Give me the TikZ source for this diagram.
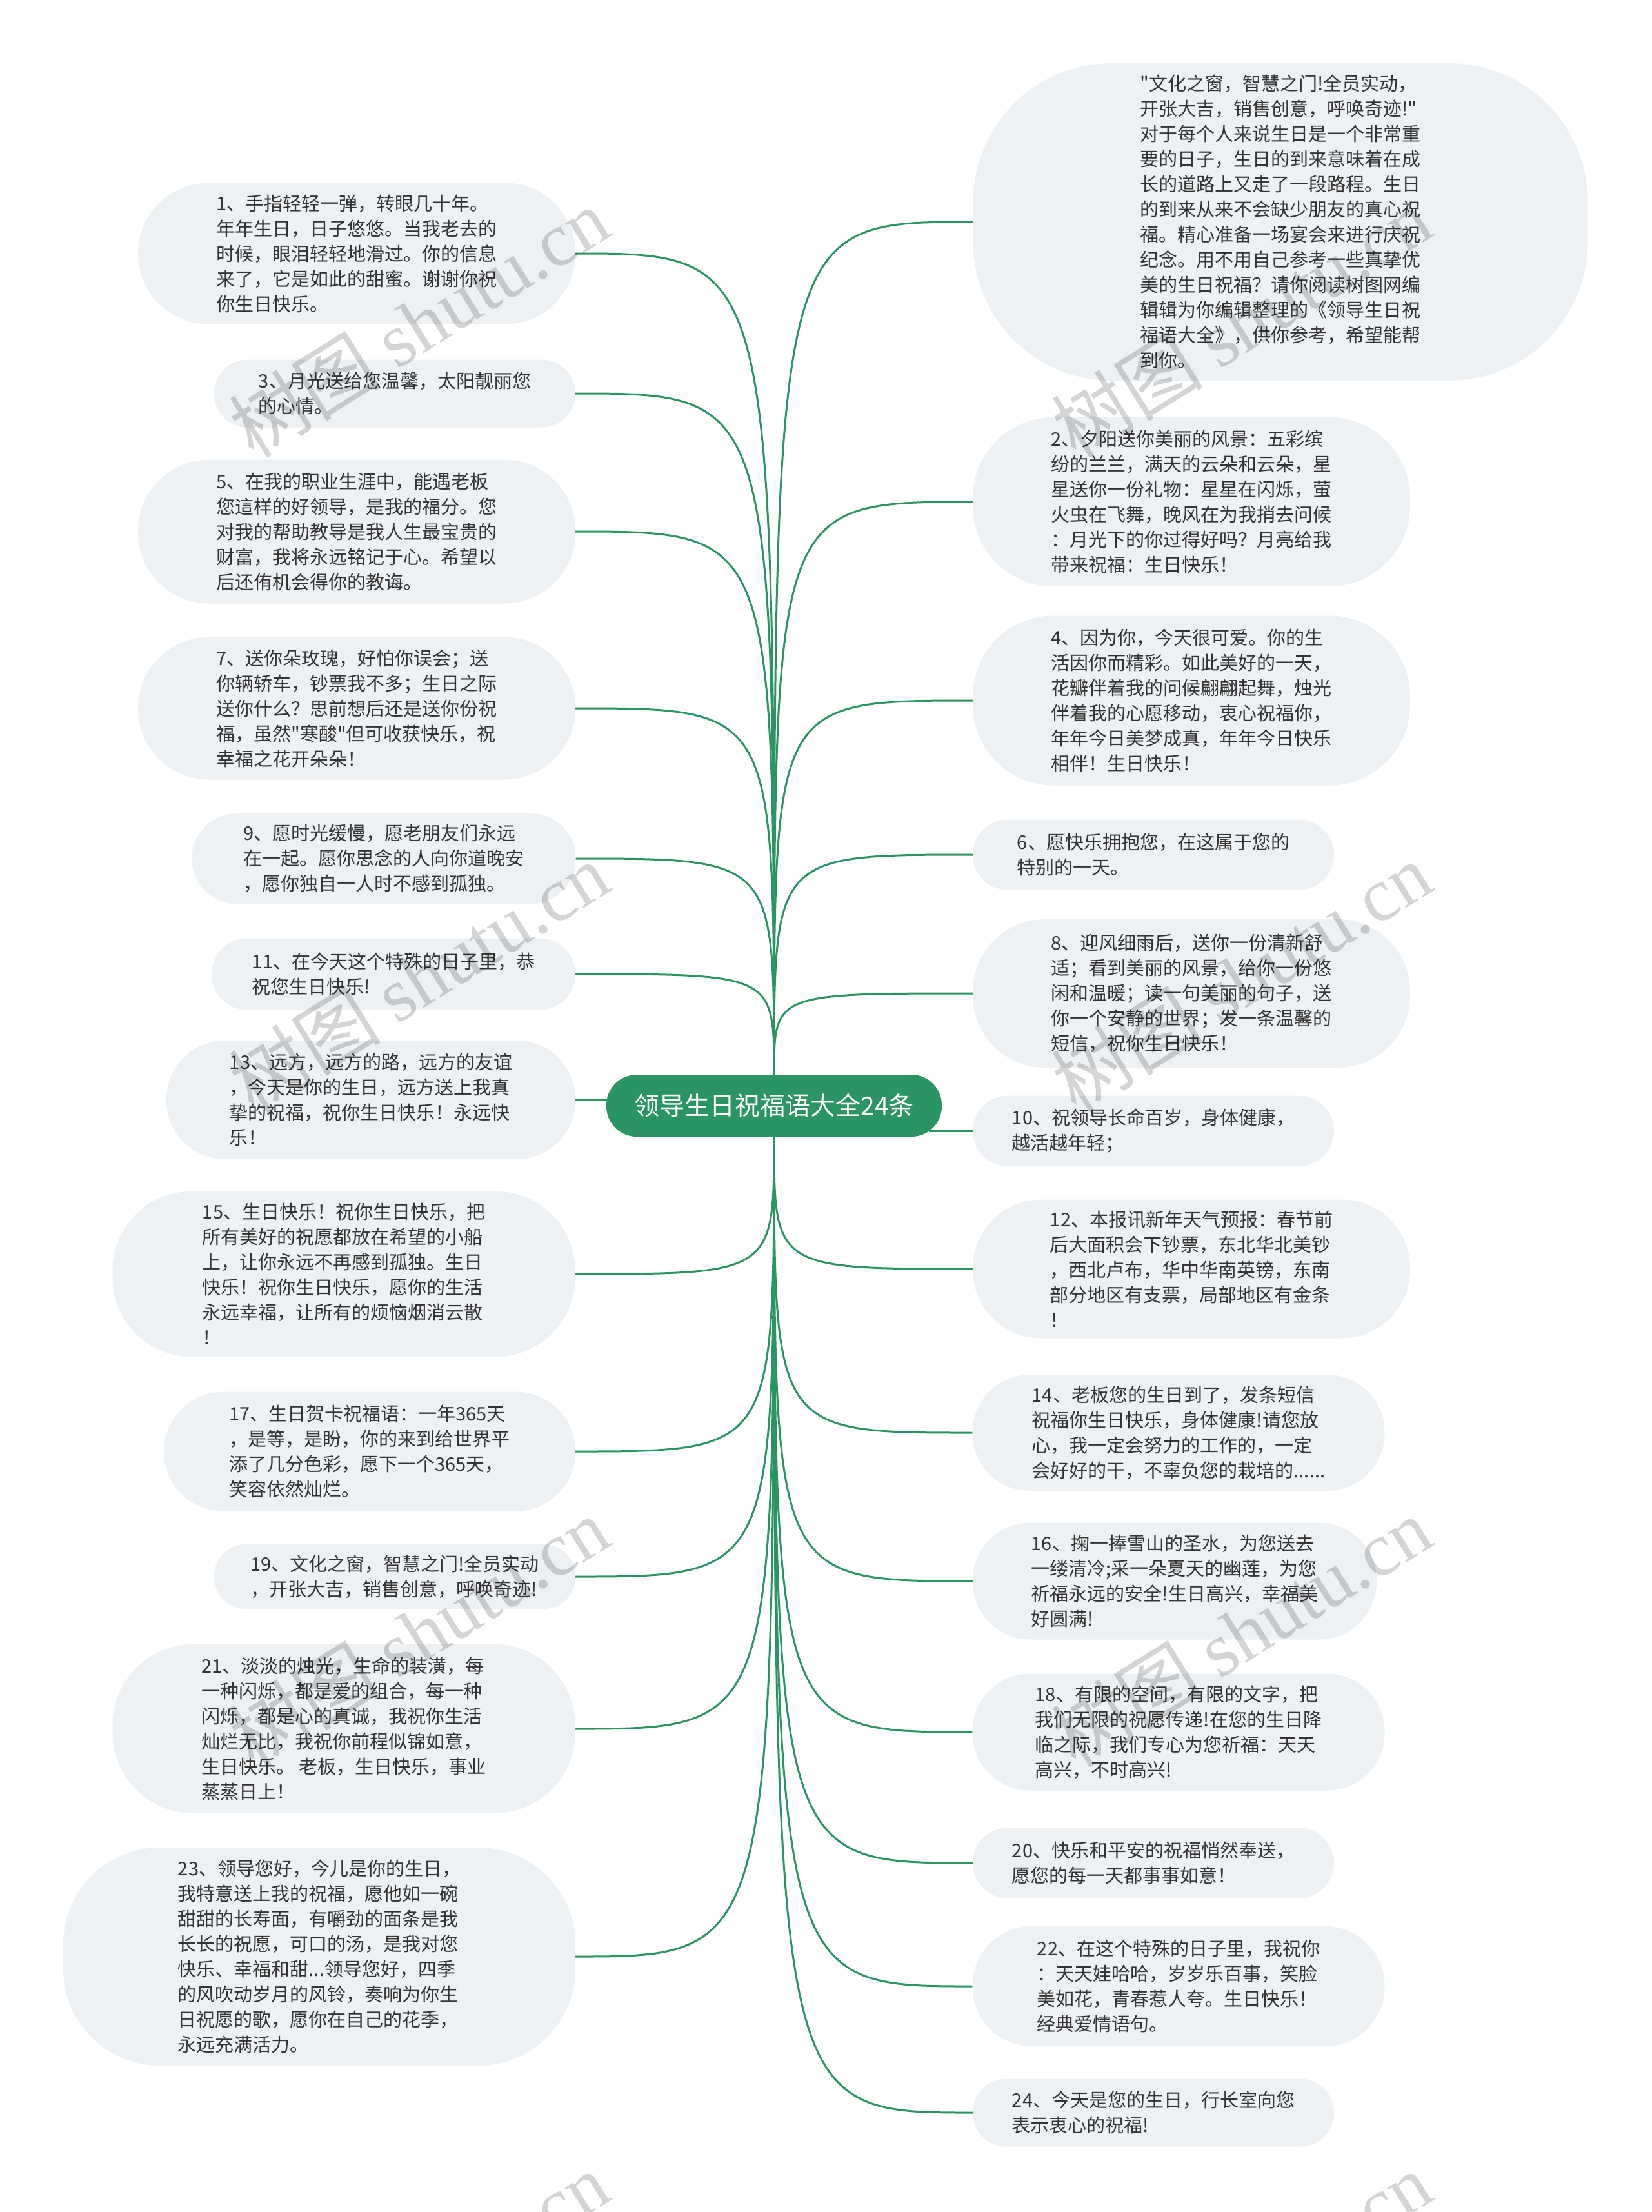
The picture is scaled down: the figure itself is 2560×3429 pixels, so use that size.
\documentclass[tikz,border=0pt]{standalone}
\usepackage{fontspec}
\setmainfont{Noto Sans CJK SC}[Ligatures=TeXOff]
\newfontfamily\wmlatin{Liberation Serif}
\definecolor{mmgreen}{HTML}{2A9463}
\definecolor{bubblefill}{HTML}{EEF1F4}
\definecolor{txtgray}{HTML}{333333}
\tikzset{
  bubble/.style={fill=bubblefill, draw=none, align=left, text=txtgray, inner sep=0pt,
    font=\fontsize{29}{39}\selectfont},
  rootnode/.style={fill=mmgreen, draw=none, text=white, rounded corners=47pt,
    minimum width=520pt, minimum height=96pt, inner sep=0pt, font=\fontsize{39}{45}\selectfont},
  link/.style={draw=mmgreen, line width=3pt},
  wm/.style={text=black, text opacity=0.17, rotate=32, inner sep=0pt,
    font=\fontsize{118}{118}\selectfont}
}
\newcommand\bub[6]{\node[bubble, minimum width=#3pt, minimum height=#4pt, rounded corners=#5pt] (#1) at (#2) {#6};}
\begin{document}
\begin{tikzpicture}[x=1pt,y=-1pt]
\useasboundingbox (0,0) rectangle (2560,3429);
\fill[white] (0,0) rectangle (2560,3429);

\node[rootnode] (root) at (1200,1714) {领导生日祝福语大全24条};

% left column
\bub{n1}{553,393}{678}{219}{109}{1、手指轻轻一弹，转眼几十年。\\年年生日，日子悠悠。当我老去的\\时候，眼泪轻轻地滑过。你的信息\\来了，它是如此的甜蜜。谢谢你祝\\你生日快乐。}
\bub{n3}{612,610}{560}{105}{52}{3、月光送给您温馨，太阳靓丽您\\的心情。}
\bub{n5}{553,824}{678}{223}{110}{5、在我的职业生涯中，能遇老板\\您這样的好领导，是我的福分。您\\对我的帮助教导是我人生最宝贵的\\财富，我将永远铭记于心。希望以\\后还侑机会得你的教诲。}
\bub{n7}{553,1098}{678}{221}{110}{7、送你朵玫瑰，好怕你误会；送\\你辆轿车，钞票我不多；生日之际\\送你什么？思前想后还是送你份祝\\福，虽然"寒酸"但可收获快乐，祝\\幸福之花开朵朵！}
\bub{n9}{595,1331}{595}{140}{69}{9、愿时光缓慢，愿老朋友们永远\\在一起。愿你思念的人向你道晚安\\，愿你独自一人时不感到孤独。}
\bub{n11}{610,1510}{564}{111}{55}{11、在今天这个特殊的日子里，恭\\祝您生日快乐!}
\bub{n13}{575,1705}{634}{184}{91}{13、远方，远方的路，远方的友谊\\，今天是你的生日，远方送上我真\\挚的祝福，祝你生日快乐！永远快\\乐！}
\bub{n15}{533,1975}{717}{256}{122}{15、生日快乐！祝你生日快乐，把\\所有美好的祝愿都放在希望的小船\\上，让你永远不再感到孤独。生日\\快乐！祝你生日快乐，愿你的生活\\永远幸福，让所有的烦恼烟消云散\\！}
\bub{n17}{573,2250}{638}{185}{92}{17、生日贺卡祝福语：一年365天\\，是等，是盼，你的来到给世界平\\添了几分色彩，愿下一个365天，\\笑容依然灿烂。}
\bub{n19}{612,2444}{560}{100}{49}{19、文化之窗，智慧之门!全员实动\\，开张大吉，销售创意，呼唤奇迹!}
\bub{n21}{533,2680}{717}{262}{125}{21、淡淡的烛光，生命的装潢，每\\一种闪烁，都是爱的组合，每一种\\闪烁，都是心的真诚，我祝你生活\\灿烂无比，我祝你前程似锦如意，\\生日快乐。 老板，生日快乐，事业\\蒸蒸日上！}
\bub{n23}{495,3033}{794}{338}{150}{23、领导您好，今儿是你的生日，\\我特意送上我的祝福，愿他如一碗\\甜甜的长寿面，有嚼劲的面条是我\\长长的祝愿，可口的汤，是我对您\\快乐、幸福和甜...领导您好，四季\\的风吹动岁月的风铃，奏响为你生\\日祝愿的歌，愿你在自己的花季，\\永远充满活力。}

% right column
\bub{nt}{1985,344}{953}{492}{215}{"文化之窗，智慧之门!全员实动，\\开张大吉，销售创意，呼唤奇迹!"\\对于每个人来说生日是一个非常重\\要的日子，生日的到来意味着在成\\长的道路上又走了一段路程。生日\\的到来从来不会缺少朋友的真心祝\\福。精心准备一场宴会来进行庆祝\\纪念。用不用自己参考一些真挚优\\美的生日祝福？请你阅读树图网编\\辑辑为你编辑整理的《领导生日祝\\福语大全》，供你参考，希望能帮\\到你。}
\bub{n2}{1847,778}{678}{262}{125}{2、夕阳送你美丽的风景：五彩缤\\纷的兰兰，满天的云朵和云朵，星\\星送你一份礼物：星星在闪烁，萤\\火虫在飞舞，晚风在为我捎去问候\\：月光下的你过得好吗？月亮给我\\带来祝福：生日快乐！}
\bub{n4}{1847,1086}{678}{263}{125}{4、因为你，今天很可爱。你的生\\活因你而精彩。如此美好的一天，\\花瓣伴着我的问候翩翩起舞，烛光\\伴着我的心愿移动，衷心祝福你，\\年年今日美梦成真，年年今日快乐\\相伴！生日快乐！}
\bub{n6}{1788,1325}{560}{109}{54}{6、愿快乐拥抱您，在这属于您的\\特别的一天。}
\bub{n8}{1847,1540}{678}{230}{112}{8、迎风细雨后，送你一份清新舒\\适；看到美丽的风景，给你一份悠\\闲和温暖；读一句美丽的句子，送\\你一个安静的世界；发一条温馨的\\短信，祝你生日快乐！}
\bub{n10}{1788,1753}{560}{109}{54}{10、祝领导长命百岁，身体健康，\\越活越年轻；}
\bub{n12}{1847,1967}{678}{215}{106}{12、本报讯新年天气预报：春节前\\后大面积会下钞票，东北华北美钞\\，西北卢布，华中华南英镑，东南\\部分地区有支票，局部地区有金条\\！}
\bub{n14}{1827,2221}{639}{180}{89}{14、老板您的生日到了，发条短信\\祝福你生日快乐，身体健康!请您放\\心，我一定会努力的工作的，一定\\会好好的干，不辜负您的栽培的......}
\bub{n16}{1821,2451}{626}{181}{89}{16、掬一捧雪山的圣水，为您送去\\一缕清冷;采一朵夏天的幽莲，为您\\祈福永远的安全!生日高兴，幸福美\\好圆满!}
\bub{n18}{1827,2685}{639}{181}{89}{18、有限的空间，有限的文字，把\\我们无限的祝愿传递!在您的生日降\\临之际，我们专心为您祈福：天天\\高兴，不时高兴!}
\bub{n20}{1788,2888}{560}{109}{54}{20、快乐和平安的祝福悄然奉送，\\愿您的每一天都事事如意！}
\bub{n22}{1827,3079}{639}{186}{92}{22、在这个特殊的日子里，我祝你\\：天天娃哈哈，岁岁乐百事，笑脸\\美如花，青春惹人夸。生日快乐！\\经典爱情语句。}
\bub{n24}{1788,3275}{560}{105}{52}{24、今天是您的生日，行长室向您\\表示衷心的祝福!}

% connectors
\foreach \n in {n1,n3,n5,n7,n9,n11}
  \draw[link] (root.north) .. controls (root.north |- \n.east) .. (\n.east);
\foreach \n in {nt,n2,n4,n6,n8}
  \draw[link] (root.north) .. controls (root.north |- \n.west) .. (\n.west);
\foreach \n in {n15,n17,n19,n21,n23}
  \draw[link] (root.south) .. controls (root.south |- \n.east) .. (\n.east);
\foreach \n in {n12,n14,n16,n18,n20,n22,n24}
  \draw[link] (root.south) .. controls (root.south |- \n.west) .. (\n.west);
\draw[link] (n13.east) -- ([xshift=20pt]root.west |- n13.east);
\draw[link] ([xshift=-20pt]root.east |- n10.west) -- (n10.west);

% watermarks
\foreach \wx/\wy [count=\i] in {649/500,649/1515,649/2530,649/3545,1924/500,1924/1515,1924/2530,1924/3545}
  \node[wm] (wm\i) at (\wx,\wy) {树图 {\wmlatin shutu.cn}};
\end{tikzpicture}
\end{document}
